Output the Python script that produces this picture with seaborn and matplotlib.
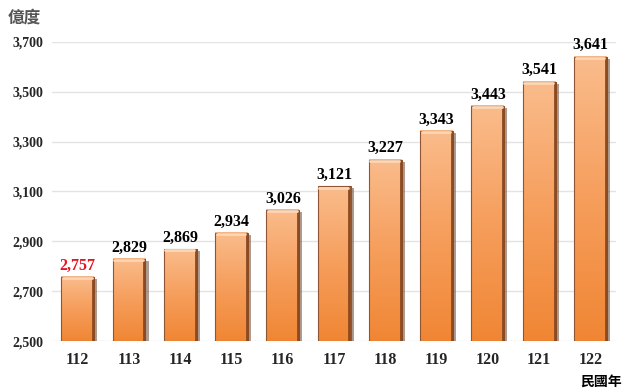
import numpy as np
import pandas as pd
import matplotlib as mpl
mpl.use('Agg')
import matplotlib.pyplot as plt
import seaborn as sns
from matplotlib.colors import LinearSegmentedColormap
from matplotlib.patches import Rectangle

years = ['112', '113', '114', '115', '116', '117', '118', '119', '120', '121', '122']
values = [2757, 2829, 2869, 2934, 3026, 3121, 3227, 3343, 3443, 3541, 3641]
yticks = [2500, 2700, 2900, 3100, 3300, 3500, 3700]

df = pd.DataFrame({'year': years, 'value': values})

sns.set_style('white')
plt.rcParams['font.family'] = ['Liberation Serif', 'Noto Sans CJK TC']

fig, ax = plt.subplots(figsize=(6.28, 3.92), dpi=100)
fig.subplots_adjust(left=0.083, right=0.981, bottom=0.13, top=0.893)

ymin, ymax = 2500, 3700
sns.barplot(data=df, x='year', y='value', color='#F5A05A', width=0.64, ax=ax,
            edgecolor='none', zorder=3)

ax.set_ylim(ymin, ymax)
ax.set_xlim(-0.5, 10.5)

cmap = LinearSegmentedColormap.from_list('bar', ['#F08634', '#F69E5C', '#FABC8C'])
grad = np.linspace(0, 1, 256).reshape(-1, 1)
for p in list(ax.patches):
    x0, w = p.get_x(), p.get_width()
    top = p.get_y() + p.get_height()
    y0 = max(p.get_y(), ymin)
    # shadow
    ax.add_patch(Rectangle((x0 + 0.06, y0), w, top - y0 - 8,
                           fc='#6E4A33', ec='none', alpha=0.55, zorder=2))
    ax.imshow(grad, extent=(x0, x0 + w, y0, top), origin='lower',
              cmap=cmap, aspect='auto', zorder=4)
    # bevel edges
    ax.add_patch(Rectangle((x0, y0), w, top - y0, fc='none', ec='#8E5634',
                           lw=0.8, zorder=5))
    ax.plot([x0 + w - 0.02, x0 + w - 0.02], [y0, top - 4], color='#8A4A22',
            lw=2.0, zorder=5)
    ax.plot([x0 + 0.03, x0 + w - 0.05], [top - 5, top - 5], color='#FDD6B5',
            lw=2.0, zorder=5)

ax.set_ylim(ymin, ymax)
ax.set_xlim(-0.5, 10.5)
ax.set_yticks(yticks)
ax.set_yticklabels([f'{v:,}' for v in yticks], fontweight='bold', fontsize=10)
ax.set_xticks(range(len(years)))
ax.set_xticklabels(years, fontweight='bold', fontsize=11.5)
ax.tick_params(axis='y', length=0, pad=6)
ax.tick_params(axis='x', length=0, pad=8)
ax.set_xlabel('')
ax.set_ylabel('')
ax.yaxis.grid(True, color='#E3E3E3', lw=1, zorder=0)
ax.set_axisbelow(True)
sns.despine(ax=ax, left=True, bottom=True)

for i, v in enumerate(values):
    ax.text(i, v + 14, f'{v:,}', ha='center', va='bottom', fontsize=11.5,
            fontweight='bold', color='#E8131F' if i == 0 else 'black',
            clip_on=False, zorder=6)

fig.text(0.012, 0.955, '億度', fontsize=12, fontweight='bold', color='#555555',
         family=['Noto Sans CJK TC'], ha='left', va='center')
fig.text(0.99, 0.025, '民國年', fontsize=10, fontweight='bold', color='black',
         family=['Noto Sans CJK TC'], ha='right', va='center')

fig.savefig('out.png', dpi=100)
